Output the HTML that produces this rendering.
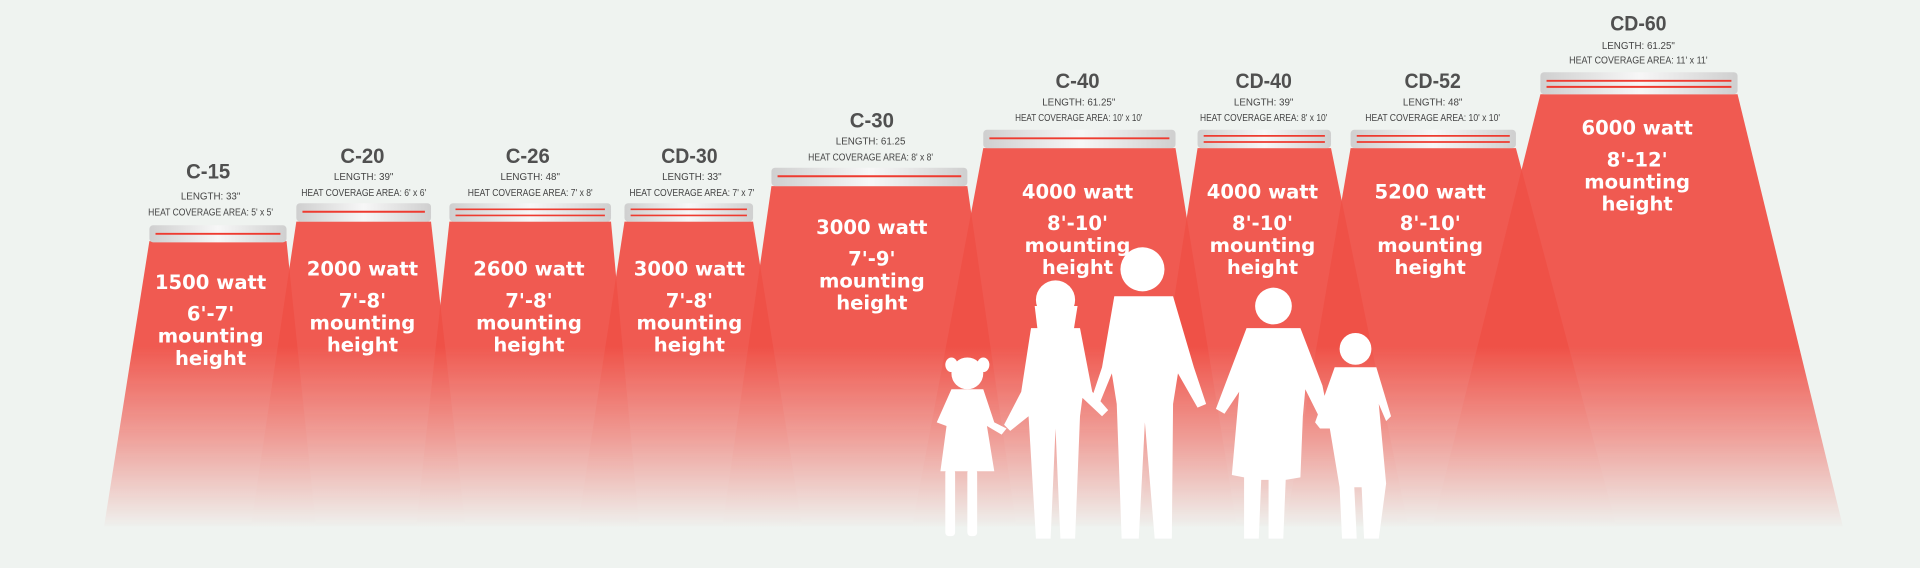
<!DOCTYPE html>
<html><head><meta charset="utf-8"><style>
html,body{margin:0;padding:0;background:#eff3f0;}
svg{display:block;}
.t{font-family:"Liberation Sans Narrow","Liberation Sans",sans-serif;font-weight:bold;fill:#505050;text-anchor:middle;}
.s{font-family:"Liberation Sans Narrow","Liberation Sans",sans-serif;fill:#444;text-anchor:middle;font-size:8px;}
.w{font-family:"DejaVu Sans","Liberation Sans",sans-serif;font-weight:bold;fill:#fff;text-anchor:middle;font-size:16px;}
</style></head><body>
<svg width="1920" height="568" viewBox="0 0 1568 464" preserveAspectRatio="none">
<defs>
<linearGradient id="fg" gradientUnits="userSpaceOnUse" x1="0" y1="60" x2="0" y2="432">
<stop offset="0" stop-color="#fff"/><stop offset="0.6" stop-color="#fff"/><stop offset="0.8" stop-color="#888"/><stop offset="1" stop-color="#000"/>
</linearGradient>
<mask id="m"><rect x="0" y="0" width="1568" height="464" fill="url(#fg)"/></mask>
<linearGradient id="hb" x1="0" y1="0" x2="1" y2="0">
<stop offset="0" stop-color="#cfcfcf"/><stop offset="0.5" stop-color="#f7f7f7"/><stop offset="1" stop-color="#cfcfcf"/>
</linearGradient>
</defs>
<rect width="1568" height="464" fill="#eff3f0"/>
<g mask="url(#m)" fill="#ef5148">
<polygon points="122,197 234,197 258,430 85,430" opacity="0.95"/>
<polygon points="242,181 352,181 380,430 205,430" opacity="0.95"/>
<polygon points="367,181 499,181 522,430 340,430" opacity="0.95"/>
<polygon points="510,181 615,181 655,430 472,430" opacity="0.95"/>
<polygon points="630,152 790,152 830,430 590,430" opacity="0.95"/>
<polygon points="803,121 960,121 1010,430 745,430" opacity="0.95"/>
<polygon points="978,121 1087,121 1150,430 930,430" opacity="0.95"/>
<polygon points="1103,121 1238,121 1320,430 1050,430" opacity="0.95"/>
<polygon points="1258,77 1419,77 1505,430 1170,430" opacity="0.95"/>
</g>
<g>
<rect x="122" y="184" width="112" height="14" rx="3" fill="url(#hb)"/><line x1="127" y1="191" x2="229" y2="191" stroke="#ee3b30" stroke-width="1.6"/>
<rect x="242" y="166" width="110" height="15" rx="3" fill="url(#hb)"/><line x1="247" y1="173" x2="347" y2="173" stroke="#ee3b30" stroke-width="1.6"/>
<rect x="367" y="166" width="132" height="15" rx="3" fill="url(#hb)"/><line x1="372" y1="171" x2="494" y2="171" stroke="#ee3b30" stroke-width="1.4"/><line x1="372" y1="176" x2="494" y2="176" stroke="#ee3b30" stroke-width="1.4"/>
<rect x="510" y="166" width="105" height="15" rx="3" fill="url(#hb)"/><line x1="515" y1="171" x2="610" y2="171" stroke="#ee3b30" stroke-width="1.4"/><line x1="515" y1="176" x2="610" y2="176" stroke="#ee3b30" stroke-width="1.4"/>
<rect x="630" y="137" width="160" height="15" rx="3" fill="url(#hb)"/><line x1="635" y1="144" x2="785" y2="144" stroke="#ee3b30" stroke-width="1.6"/>
<rect x="803" y="106" width="157" height="15" rx="3" fill="url(#hb)"/><line x1="808" y1="113" x2="955" y2="113" stroke="#ee3b30" stroke-width="1.6"/>
<rect x="978" y="106" width="109" height="15" rx="3" fill="url(#hb)"/><line x1="983" y1="111" x2="1082" y2="111" stroke="#ee3b30" stroke-width="1.4"/><line x1="983" y1="116" x2="1082" y2="116" stroke="#ee3b30" stroke-width="1.4"/>
<rect x="1103" y="106" width="135" height="15" rx="3" fill="url(#hb)"/><line x1="1108" y1="111" x2="1233" y2="111" stroke="#ee3b30" stroke-width="1.4"/><line x1="1108" y1="116" x2="1233" y2="116" stroke="#ee3b30" stroke-width="1.4"/>
<rect x="1258" y="59" width="161" height="18" rx="3" fill="url(#hb)"/><line x1="1263" y1="66" x2="1414" y2="66" stroke="#ee3b30" stroke-width="1.6"/><line x1="1263" y1="71" x2="1414" y2="71" stroke="#ee3b30" stroke-width="1.6"/>
</g>
<g>
<text class="t" x="170" y="146" font-size="17" textLength="36" lengthAdjust="spacingAndGlyphs">C-15</text><text class="s" x="172" y="163">LENGTH: 33"</text><text class="s" x="172" y="176" textLength="102" lengthAdjust="spacingAndGlyphs">HEAT COVERAGE AREA: 5' x 5'</text>
<text class="t" x="296" y="133" font-size="17" textLength="36" lengthAdjust="spacingAndGlyphs">C-20</text><text class="s" x="297" y="147">LENGTH: 39"</text><text class="s" x="297" y="160" textLength="102" lengthAdjust="spacingAndGlyphs">HEAT COVERAGE AREA: 6' x 6'</text>
<text class="t" x="431" y="133" font-size="17" textLength="36" lengthAdjust="spacingAndGlyphs">C-26</text><text class="s" x="433" y="147">LENGTH: 48"</text><text class="s" x="433" y="160" textLength="102" lengthAdjust="spacingAndGlyphs">HEAT COVERAGE AREA: 7' x 8'</text>
<text class="t" x="563" y="133" font-size="17" textLength="46" lengthAdjust="spacingAndGlyphs">CD-30</text><text class="s" x="565" y="147">LENGTH: 33"</text><text class="s" x="565" y="160" textLength="102" lengthAdjust="spacingAndGlyphs">HEAT COVERAGE AREA: 7' x 7'</text>
<text class="t" x="712" y="104" font-size="17" textLength="36" lengthAdjust="spacingAndGlyphs">C-30</text><text class="s" x="711" y="118">LENGTH: 61.25</text><text class="s" x="711" y="131" textLength="102" lengthAdjust="spacingAndGlyphs">HEAT COVERAGE AREA: 8' x 8'</text>
<text class="t" x="880" y="72" font-size="17" textLength="36" lengthAdjust="spacingAndGlyphs">C-40</text><text class="s" x="881" y="86">LENGTH: 61.25"</text><text class="s" x="881" y="99" textLength="104" lengthAdjust="spacingAndGlyphs">HEAT COVERAGE AREA: 10' x 10'</text>
<text class="t" x="1032" y="72" font-size="17" textLength="46" lengthAdjust="spacingAndGlyphs">CD-40</text><text class="s" x="1032" y="86">LENGTH: 39"</text><text class="s" x="1032" y="99" textLength="104" lengthAdjust="spacingAndGlyphs">HEAT COVERAGE AREA: 8' x 10'</text>
<text class="t" x="1170" y="72" font-size="17" textLength="46" lengthAdjust="spacingAndGlyphs">CD-52</text><text class="s" x="1170" y="86">LENGTH: 48"</text><text class="s" x="1170" y="99" textLength="110" lengthAdjust="spacingAndGlyphs">HEAT COVERAGE AREA: 10' x 10'</text>
<text class="t" x="1338" y="25" font-size="17" textLength="46" lengthAdjust="spacingAndGlyphs">CD-60</text><text class="s" x="1338" y="40">LENGTH: 61.25"</text><text class="s" x="1338" y="52" textLength="113" lengthAdjust="spacingAndGlyphs">HEAT COVERAGE AREA: 11' x 11'</text>
</g>
<g fill="#fff">
<circle cx="790" cy="305" r="13"/><ellipse cx="777" cy="298" rx="5" ry="6"/><ellipse cx="803" cy="298" rx="5" ry="6"/>
<path d="M777,318 L803,318 L812,345 L822,350 L818,355 L806,348 L812,385 L768,385 L773,348 L765,345 Z"/>
<rect x="772" y="383" width="8" height="55" rx="3"/><rect x="790" y="383" width="8" height="55" rx="3"/>
<circle cx="862" cy="245" r="16"/><path d="M845,250 L848,275 L876,275 L880,250 Z"/>
<path d="M842,268 L882,268 L892,320 L905,335 L900,340 L884,325 L882,340 L878,440 L866,440 L862,350 L858,440 L846,440 L840,340 L825,352 L820,347 L834,320 Z"/>
<circle cx="933" cy="220" r="18"/><path d="M910,242 L958,242 L975,300 L985,330 L978,333 L962,305 L958,330 L957,440 L943,440 L935,345 L930,440 L916,440 L912,330 L908,305 L897,332 L890,330 L900,300 Z"/>
<circle cx="1040" cy="250" r="15"/><path d="M1018,268 L1062,268 L1080,315 L1085,340 L1078,342 L1066,318 L1064,340 L1062,390 L1050,392 L1048,440 L1036,440 L1036,392 L1030,392 L1028,440 L1016,440 L1016,390 L1006,388 L1012,320 L1000,338 L993,334 Z"/>
<circle cx="1107" cy="285" r="13"/><path d="M1090,300 L1124,300 L1136,340 L1132,344 L1126,330 L1132,395 L1126,440 L1114,440 L1112,398 L1106,398 L1108,440 L1096,440 L1094,398 L1086,350 L1078,350 L1074,345 Z"/>
</g>
<g class="w">
<text class="w" x="172" y="236">1500 watt</text><text class="w" x="172" y="262" font-size="17">6'-7'</text><text class="w" x="172" y="280">mounting</text><text class="w" x="172" y="298">height</text>
<text class="w" x="296" y="225">2000 watt</text><text class="w" x="296" y="251" font-size="17">7'-8'</text><text class="w" x="296" y="269">mounting</text><text class="w" x="296" y="287">height</text>
<text class="w" x="432" y="225">2600 watt</text><text class="w" x="432" y="251" font-size="17">7'-8'</text><text class="w" x="432" y="269">mounting</text><text class="w" x="432" y="287">height</text>
<text class="w" x="563" y="225">3000 watt</text><text class="w" x="563" y="251" font-size="17">7'-8'</text><text class="w" x="563" y="269">mounting</text><text class="w" x="563" y="287">height</text>
<text class="w" x="712" y="191">3000 watt</text><text class="w" x="712" y="217" font-size="17">7'-9'</text><text class="w" x="712" y="235">mounting</text><text class="w" x="712" y="253">height</text>
<text class="w" x="880" y="162">4000 watt</text><text class="w" x="880" y="188" font-size="17">8'-10'</text><text class="w" x="880" y="206">mounting</text><text class="w" x="880" y="224">height</text>
<text class="w" x="1031" y="162">4000 watt</text><text class="w" x="1031" y="188" font-size="17">8'-10'</text><text class="w" x="1031" y="206">mounting</text><text class="w" x="1031" y="224">height</text>
<text class="w" x="1168" y="162">5200 watt</text><text class="w" x="1168" y="188" font-size="17">8'-10'</text><text class="w" x="1168" y="206">mounting</text><text class="w" x="1168" y="224">height</text>
<text class="w" x="1337" y="110">6000 watt</text><text class="w" x="1337" y="136" font-size="17">8'-12'</text><text class="w" x="1337" y="154">mounting</text><text class="w" x="1337" y="172">height</text>
</g>
</svg>
</body></html>
